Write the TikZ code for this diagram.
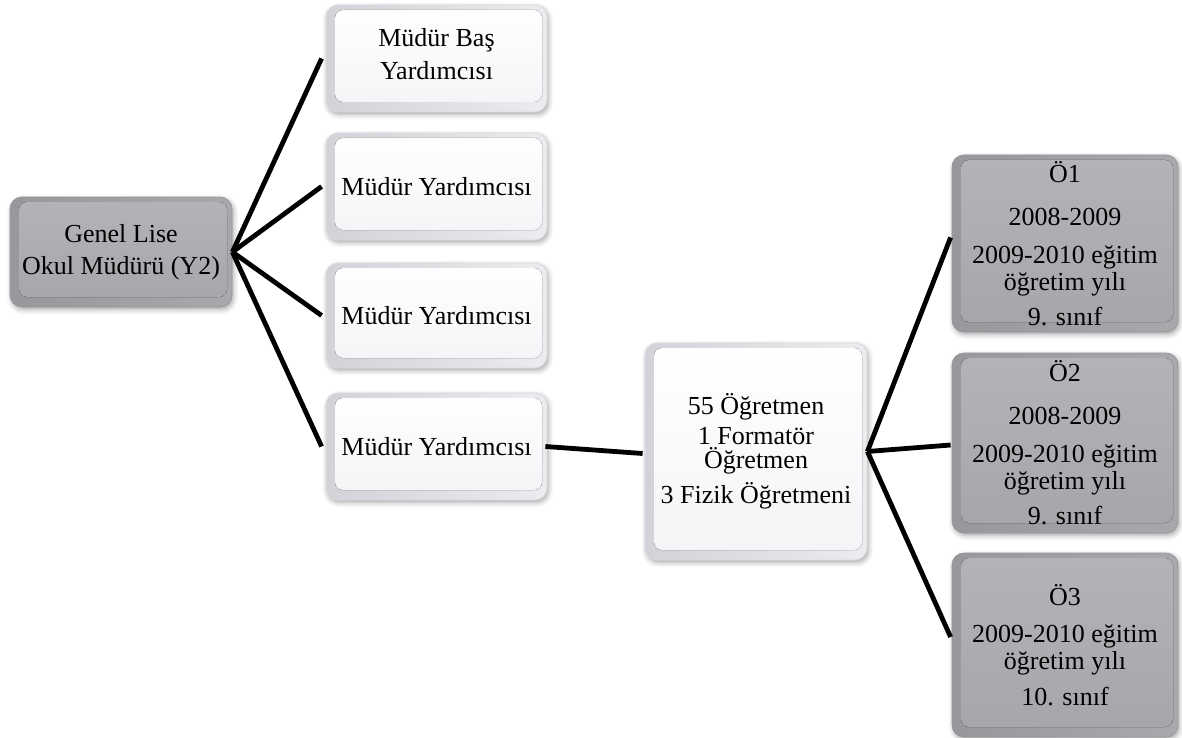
\documentclass[tikz,border=0pt]{standalone}
\usepackage{fontspec}
\setmainfont{Liberation Serif}
\usetikzlibrary{shadows.blur}

% colours of the bevelled boxes
\definecolor{lightEdge}{HTML}{DADADF}
\definecolor{lightBevelL}{HTML}{D2D2D8}
\definecolor{lightBevelR}{HTML}{ECECF0}
\definecolor{lightFaceTop}{HTML}{FFFFFF}
\definecolor{lightFaceBot}{HTML}{F4F4F7}
\definecolor{greyEdge}{HTML}{97979C}
\definecolor{greyBevelL}{HTML}{97979C}
\definecolor{greyBevelR}{HTML}{A8A8AD}
\definecolor{greyFaceTop}{HTML}{B4B4B8}
\definecolor{greyFaceBot}{HTML}{A6A6AA}

\tikzset{
  box/.style={rounded corners=12pt, inner sep=0pt, align=center,
    font=\fontsize{26}{26}\selectfont,
    blur shadow={shadow xshift=1.5pt, shadow yshift=-2.5pt,
      shadow blur radius=5pt, shadow opacity=35}},
  lightbox/.style={box, draw=lightEdge, line width=0.8pt,
    left color=lightBevelL, right color=lightBevelR,
    path picture={
      \fill[top color=lightFaceTop, bottom color=lightFaceBot, rounded corners=8pt]
        ([shift={(9pt,-5pt)}]path picture bounding box.north west) rectangle
        ([shift={(-5pt,10pt)}]path picture bounding box.south east);
    }},
  greybox/.style={box, draw=greyEdge, line width=0.8pt,
    left color=greyBevelL, right color=greyBevelR,
    path picture={
      \fill[top color=greyFaceTop, bottom color=greyFaceBot, rounded corners=8pt]
        ([shift={(9pt,-5pt)}]path picture bounding box.north west) rectangle
        ([shift={(-5pt,10pt)}]path picture bounding box.south east);
    }},
  link/.style={line width=4.8pt, black},
}

\begin{document}
\begin{tikzpicture}[x=1pt, y=-1pt]
  \useasboundingbox (0,0) rectangle (1182,738);

  % principal
  \node[greybox, minimum width=222pt, minimum height=110pt] (root) at (121,252)
    {Genel Lise\\[6pt]Okul Müdürü (Y2)};

  % vice principals
  \node[lightbox, minimum width=221pt, minimum height=107pt] (b1) at (436.5,58.5)
    {Müdür Baş\\[7pt]Yardımcısı\\[-16pt]\mbox{}};
  \node[lightbox, minimum width=221pt, minimum height=107pt] (b2) at (436.5,186.5)
    {Müdür Yardımcısı};
  \node[lightbox, minimum width=221pt, minimum height=105pt] (b3) at (436.5,315.5)
    {Müdür Yardımcısı};
  \node[lightbox, minimum width=221pt, minimum height=107pt] (b4) at (436.5,446.5)
    {Müdür Yardımcısı};

  % teaching staff
  \node[lightbox, minimum width=222pt, minimum height=217pt] (mid) at (756,451.5)
    {55 Öğretmen\\[4pt]1 Formatör\\[-2pt]Öğretmen\\[7pt]3 Fizik Öğretmeni};

  % teachers observed
  \node[greybox, minimum width=226pt, minimum height=177pt] (o1) at (1065,243.5)
    {Ö1\\[17pt]2008-2009\\[12pt]2009-2010 eğitim\\[1pt]öğretim yılı\\[9pt]9. sınıf};
  \node[greybox, minimum width=226pt, minimum height=180pt] (o2) at (1065,443)
    {Ö2\\[17pt]2008-2009\\[12pt]2009-2010 eğitim\\[1pt]öğretim yılı\\[9pt]9. sınıf};
  \node[greybox, minimum width=226pt, minimum height=184pt] (o3) at (1065,645)
    {Ö3\\[11pt]2009-2010 eğitim\\[1pt]öğretim yılı\\[10pt]10. sınıf};

  % connectors
  \draw[link] (root.east) -- ([xshift=-4pt]b1.west);
  \draw[link] (root.east) -- ([xshift=-4pt]b2.west);
  \draw[link] (root.east) -- ([xshift=-4pt]b3.west);
  \draw[link] (root.east) -- ([xshift=-4pt]b4.west);
  \draw[link] ([xshift=-2pt]b4.east) -- ([shift={(-2pt,-2pt)}]mid.west);
  \draw[link] (mid.east) -- ([shift={(-1pt,6pt)}]o1.west);
  \draw[link] (mid.east) -- ([shift={(-1pt,-2pt)}]o2.west);
  \draw[link] (mid.east) -- ([shift={(-1pt,8pt)}]o3.west);
\end{tikzpicture}
\end{document}
